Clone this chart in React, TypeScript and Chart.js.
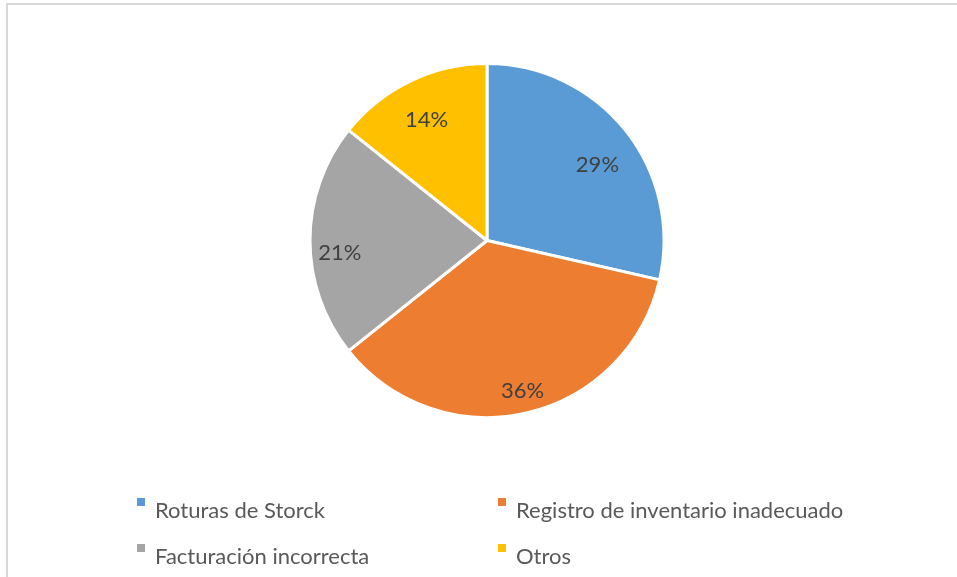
import React, { useEffect, useRef } from "react";
import { Chart, registerables } from "chart.js";

Chart.register(...registerables);

const categories = [
  "Roturas de Storck",
  "Registro de inventario inadecuado",
  "Facturación incorrecta",
  "Otros",
];
const values = [4, 5, 3, 2];
const colors = ["#5B9BD5", "#ED7D31", "#A5A5A5", "#FFC000"];

// label placement tweaks (radial fraction, angle nudge in degrees)
const labelRadial = [0.755, 0.875, 0.835, 0.76];
const labelAngleNudge = [4.3, -0.4, -4.7, -1];

const FONT = "Lato, 'Open Sans', sans-serif";

const customPlugin = {
  id: "custom",
  beforeDraw(chart: any) {
    const ctx = chart.ctx;
    ctx.save();
    ctx.strokeStyle = "#D9D9D9";
    ctx.lineWidth = 2;
    ctx.strokeRect(7, 4, chart.width + 20, chart.height + 20);
    ctx.restore();
  },
  afterDraw(chart: any) {
    const ctx = chart.ctx;
    const meta = chart.getDatasetMeta(0);
    const total = values.reduce((a, b) => a + b, 0);
    ctx.save();
    ctx.font = `22px ${FONT}`;
    ctx.fillStyle = "#404040";
    ctx.textAlign = "center";
    ctx.textBaseline = "middle";
    meta.data.forEach((arc: any, i: number) => {
      const { x, y, startAngle, endAngle, outerRadius } = arc.getProps(
        ["x", "y", "startAngle", "endAngle", "outerRadius"],
        true
      );
      const mid = (startAngle + endAngle) / 2 + (labelAngleNudge[i] * Math.PI) / 180;
      const r = outerRadius * labelRadial[i];
      const pct = Math.round((values[i] / total) * 100) + "%";
      ctx.fillText(pct, x + Math.cos(mid) * r, y + Math.sin(mid) * r);
    });

    // legend
    ctx.font = `22px ${FONT}`;
    ctx.textAlign = "left";
    ctx.textBaseline = "alphabetic";
    const colX = [137, 498];
    const rowY = [498, 544];
    categories.forEach((name, i) => {
      const cx = colX[i % 2];
      const cy = rowY[Math.floor(i / 2)];
      ctx.fillStyle = colors[i];
      ctx.fillRect(cx, cy, 8, 8);
      ctx.fillStyle = "#595959";
      ctx.fillText(name, cx + 18, cy + 20);
    });
    ctx.restore();
  },
};

export default function App() {
  const ref = useRef<HTMLCanvasElement>(null);
  useEffect(() => {
    document.body.style.margin = "0";
    const chart = new Chart(ref.current!, {
      type: "pie",
      data: {
        labels: categories,
        datasets: [
          {
            data: values,
            backgroundColor: colors,
            borderColor: "#FFFFFF",
            borderWidth: 3,
          },
        ],
      },
      options: {
        responsive: false,
        animation: false,
        layout: { padding: { left: 308.5, right: 291.5, top: 62, bottom: 158 } },
        plugins: { legend: { display: false }, tooltip: { enabled: false } },
      },
      plugins: [customPlugin],
    });
    return () => chart.destroy();
  }, []);
  return <canvas ref={ref} width={957} height={577} style={{ display: "block" }} />;
}
